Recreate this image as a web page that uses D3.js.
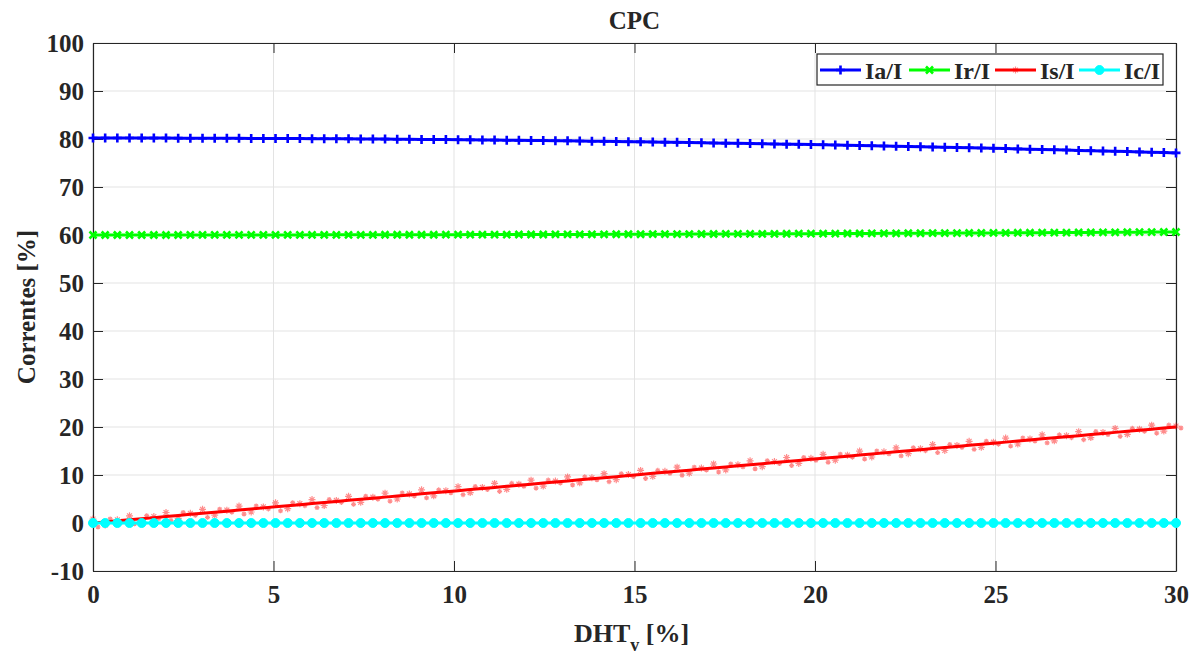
<!DOCTYPE html>
<meta charset="utf-8">
<script src="https://d3js.org/d3.v7.min.js"></script>
<style>
  body { margin: 0; background: #fff; }
  text { font-family: "Liberation Serif", "Times New Roman", serif; font-weight: bold; fill: #262626; }
</style>
<svg id="chart" width="1200" height="655"></svg>
<script>

// x grid: 90 samples from 0 to 30 %
var nPts = 90
var xTicks = [0, 5, 10, 15, 20, 25, 30]
var yTicks = [-10, 0, 10, 20, 30, 40, 50, 60, 70, 80, 90, 100]

var iaValues = [
  80.20, 80.20, 80.20, 80.20, 80.19, 80.19, 80.19, 80.18, 80.17, 80.17,
  80.16, 80.15, 80.14, 80.13, 80.12, 80.11, 80.10, 80.09, 80.07, 80.06,
  80.04, 80.03, 80.01, 79.99, 79.98, 79.96, 79.94, 79.92, 79.89, 79.87,
  79.85, 79.82, 79.80, 79.77, 79.75, 79.72, 79.69, 79.67, 79.64, 79.61,
  79.57, 79.54, 79.51, 79.48, 79.44, 79.41, 79.37, 79.34, 79.30, 79.26,
  79.22, 79.18, 79.14, 79.10, 79.06, 79.02, 78.97, 78.93, 78.89, 78.84,
  78.79, 78.75, 78.70, 78.65, 78.60, 78.55, 78.50, 78.45, 78.39, 78.34,
  78.28, 78.23, 78.17, 78.12, 78.06, 78.00, 77.94, 77.88, 77.82, 77.76,
  77.70, 77.63, 77.57, 77.51, 77.44, 77.38, 77.31, 77.24, 77.17, 77.10]

var irValues = [
  60.00, 60.00, 60.00, 60.00, 60.00, 60.00, 60.00, 60.00, 60.01, 60.01,
  60.01, 60.01, 60.01, 60.01, 60.02, 60.02, 60.02, 60.02, 60.03, 60.03,
  60.03, 60.04, 60.04, 60.04, 60.05, 60.05, 60.05, 60.06, 60.06, 60.07,
  60.07, 60.08, 60.08, 60.09, 60.09, 60.10, 60.10, 60.11, 60.12, 60.12,
  60.13, 60.13, 60.14, 60.15, 60.15, 60.16, 60.17, 60.18, 60.18, 60.19,
  60.20, 60.21, 60.22, 60.22, 60.23, 60.24, 60.25, 60.26, 60.27, 60.28,
  60.29, 60.30, 60.31, 60.32, 60.33, 60.34, 60.35, 60.36, 60.37, 60.38,
  60.39, 60.40, 60.41, 60.42, 60.44, 60.45, 60.46, 60.47, 60.48, 60.50,
  60.51, 60.52, 60.53, 60.55, 60.56, 60.57, 60.59, 60.60, 60.62, 60.63]

var isValues = [
  0.00, 0.22, 0.45, 0.67, 0.90, 1.12, 1.35, 1.57, 1.80, 2.02,
  2.25, 2.47, 2.70, 2.92, 3.15, 3.37, 3.60, 3.82, 4.04, 4.27,
  4.49, 4.72, 4.94, 5.17, 5.39, 5.62, 5.84, 6.07, 6.29, 6.52,
  6.74, 6.97, 7.19, 7.42, 7.64, 7.87, 8.09, 8.31, 8.54, 8.76,
  8.99, 9.21, 9.44, 9.66, 9.89, 10.11, 10.34, 10.56, 10.79, 11.01,
  11.24, 11.46, 11.69, 11.91, 12.13, 12.36, 12.58, 12.81, 13.03, 13.26,
  13.48, 13.71, 13.93, 14.16, 14.38, 14.61, 14.83, 15.06, 15.28, 15.51,
  15.73, 15.95, 16.18, 16.40, 16.63, 16.85, 17.08, 17.30, 17.53, 17.75,
  17.98, 18.20, 18.43, 18.65, 18.88, 19.10, 19.33, 19.55, 19.78, 20.00]

var icValues = [
  0, 0, 0, 0, 0, 0, 0, 0, 0, 0,
  0, 0, 0, 0, 0, 0, 0, 0, 0, 0,
  0, 0, 0, 0, 0, 0, 0, 0, 0, 0,
  0, 0, 0, 0, 0, 0, 0, 0, 0, 0,
  0, 0, 0, 0, 0, 0, 0, 0, 0, 0,
  0, 0, 0, 0, 0, 0, 0, 0, 0, 0,
  0, 0, 0, 0, 0, 0, 0, 0, 0, 0,
  0, 0, 0, 0, 0, 0, 0, 0, 0, 0,
  0, 0, 0, 0, 0, 0, 0, 0, 0, 0]

var seriesNames = ["Ia/I", "Ir/I", "Is/I", "Ic/I"]

var xValues = d3.range(nPts).map(function(i){ return i * 30 / (nPts - 1) })

var series = [
  {name: seriesNames[0], values: iaValues, color: "#0000ff", marker: "plus"},
  {name: seriesNames[1], values: irValues, color: "#00ff00", marker: "cross"},
  {name: seriesNames[2], values: isValues, color: "#ff0000", marker: "star"},
  {name: seriesNames[3], values: icValues, color: "#00ffff", marker: "circle"}
]

var FONT = "'Liberation Serif', 'Times New Roman', serif"

var svg = d3.select("#chart")
var margin = {left: 93, right: 24, top: 43, bottom: 84}
var width = 1200 - margin.left - margin.right
var height = 655 - margin.top - margin.bottom

var x = d3.scaleLinear().domain([0, 30]).range([margin.left, margin.left + width])
var y = d3.scaleLinear().domain([-10, 100]).range([margin.top + height, margin.top])

// grid
var grid = svg.append("g")
grid.selectAll(".gx").data(xTicks).join("line")
  .attr("x1", function(d){ return x(d) }).attr("x2", function(d){ return x(d) })
  .attr("y1", y(-10)).attr("y2", y(100))
  .attr("stroke", "#e3e3e3").attr("stroke-width", 1)
grid.selectAll(".gy").data(yTicks).join("line")
  .attr("y1", function(d){ return y(d) }).attr("y2", function(d){ return y(d) })
  .attr("x1", x(0)).attr("x2", x(30))
  .attr("stroke", "#e3e3e3").attr("stroke-width", 1)

// axes (ticks inside, box on)
var fmt = function(d){ return String(d) }
svg.append("g").attr("transform", "translate(" + x(0) + ",0)")
  .call(d3.axisLeft(y).tickValues(yTicks).tickFormat(fmt).tickSizeInner(-10).tickSizeOuter(0).tickPadding(9))
svg.append("g").attr("transform", "translate(" + x(30) + ",0)")
  .call(d3.axisRight(y).tickValues(yTicks).tickSizeInner(-10).tickSizeOuter(0).tickFormat(""))
svg.append("g").attr("transform", "translate(0," + y(-10) + ")")
  .call(d3.axisBottom(x).tickValues(xTicks).tickFormat(fmt).tickSizeInner(-10).tickSizeOuter(0).tickPadding(14))
svg.append("g").attr("transform", "translate(0," + y(100) + ")")
  .call(d3.axisTop(x).tickValues(xTicks).tickSizeInner(-10).tickSizeOuter(0).tickFormat(""))

svg.selectAll(".domain").attr("stroke", "#262626").attr("stroke-width", 1.2)
svg.selectAll(".tick line").attr("stroke", "#262626")
svg.selectAll(".tick text")
  .attr("font-family", FONT).style("font-family", FONT).style("font-weight", "bold")
  .style("font-size", "25px").attr("fill", "#262626")

// lines + markers
var line = d3.line()
  .x(function(d, i){ return x(xValues[i]) })
  .y(function(d){ return y(d) })

function markerPath(type, s) {
  if (type === "plus") return "M" + (-s) + ",0H" + s + "M0," + (-s) + "V" + s
  if (type === "cross") return "M" + (-s) + "," + (-s) + "L" + s + "," + s + "M" + (-s) + "," + s + "L" + s + "," + (-s)
  if (type === "star") {
    var k = s * 0.7
    return "M" + (-s) + ",0H" + s + "M0," + (-s) + "V" + s +
      "M" + (-k) + "," + (-k) + "L" + k + "," + k + "M" + (-k) + "," + k + "L" + k + "," + (-k)
  }
  return null
}

function drawMarkers(g, s, cx, cy, size) {
  if (s.marker === "circle") {
    g.append("circle").attr("cx", cx).attr("cy", cy).attr("r", size)
      .attr("fill", s.color).attr("stroke", s.color)
  } else {
    g.append("path").attr("transform", "translate(" + cx + "," + cy + ")")
      .attr("d", markerPath(s.marker, size))
      .attr("stroke", s.color)
      .attr("stroke-width", s.marker === "star" ? 1.2 : 2.6)
      .attr("stroke-opacity", s.marker === "star" ? 0.45 : 1)
      .attr("fill", "none")
  }
}

var markerSize = {plus: 4.5, cross: 3.5, star: 3.5, circle: 4.5}

series.forEach(function(s) {
  var g = svg.append("g")
  g.append("path").datum(s.values)
    .attr("d", line)
    .attr("fill", "none")
    .attr("stroke", s.color)
    .attr("stroke-width", 3)
  s.values.forEach(function(v, i) {
    var dy = 0
    if (s.marker === "star") dy = (i % 3 === 0 ? -4 : (i % 3 === 1 ? 3 : -1))
    drawMarkers(g, s, x(xValues[i]), y(v) + dy, markerSize[s.marker])
    if (s.marker === "star") drawMarkers(g, s, x(xValues[i]) + 5, y(v) - dy, 2.5)
  })
})

// title and labels
svg.append("text").attr("x", x(15)).attr("y", 29)
  .attr("text-anchor", "middle").style("font-size", "25px").text("CPC")

var xl = svg.append("text").attr("x", x(15) - 3).attr("y", 642)
  .attr("text-anchor", "middle").style("font-size", "26px")
xl.append("tspan").text("DHT")
xl.append("tspan").attr("dy", 9).style("font-size", "18px").text("v")
xl.append("tspan").attr("dy", -9).text(" [%]")

svg.append("text")
  .attr("transform", "translate(35," + y(45) + ") rotate(-90)")
  .attr("text-anchor", "middle").style("font-size", "25px").text("Correntes [%]")

// legend
var leg = svg.append("g")
leg.append("rect").attr("x", 817).attr("y", 54).attr("width", 346).attr("height", 31)
  .attr("fill", "#fff").attr("stroke", "#262626").attr("stroke-width", 1.2)
var legX = [820, 909, 995, 1079]
series.forEach(function(s, k) {
  var x0 = legX[k], ly = 70
  leg.append("line").attr("x1", x0).attr("x2", x0 + 41).attr("y1", ly).attr("y2", ly)
    .attr("stroke", s.color).attr("stroke-width", 3)
  drawMarkers(leg, s, x0 + 20.5, ly, markerSize[s.marker])
  leg.append("text").attr("x", x0 + 45).attr("y", ly + 8.5)
    .style("font-size", "24px").attr("fill", "#000").text(s.name)
})

</script>
